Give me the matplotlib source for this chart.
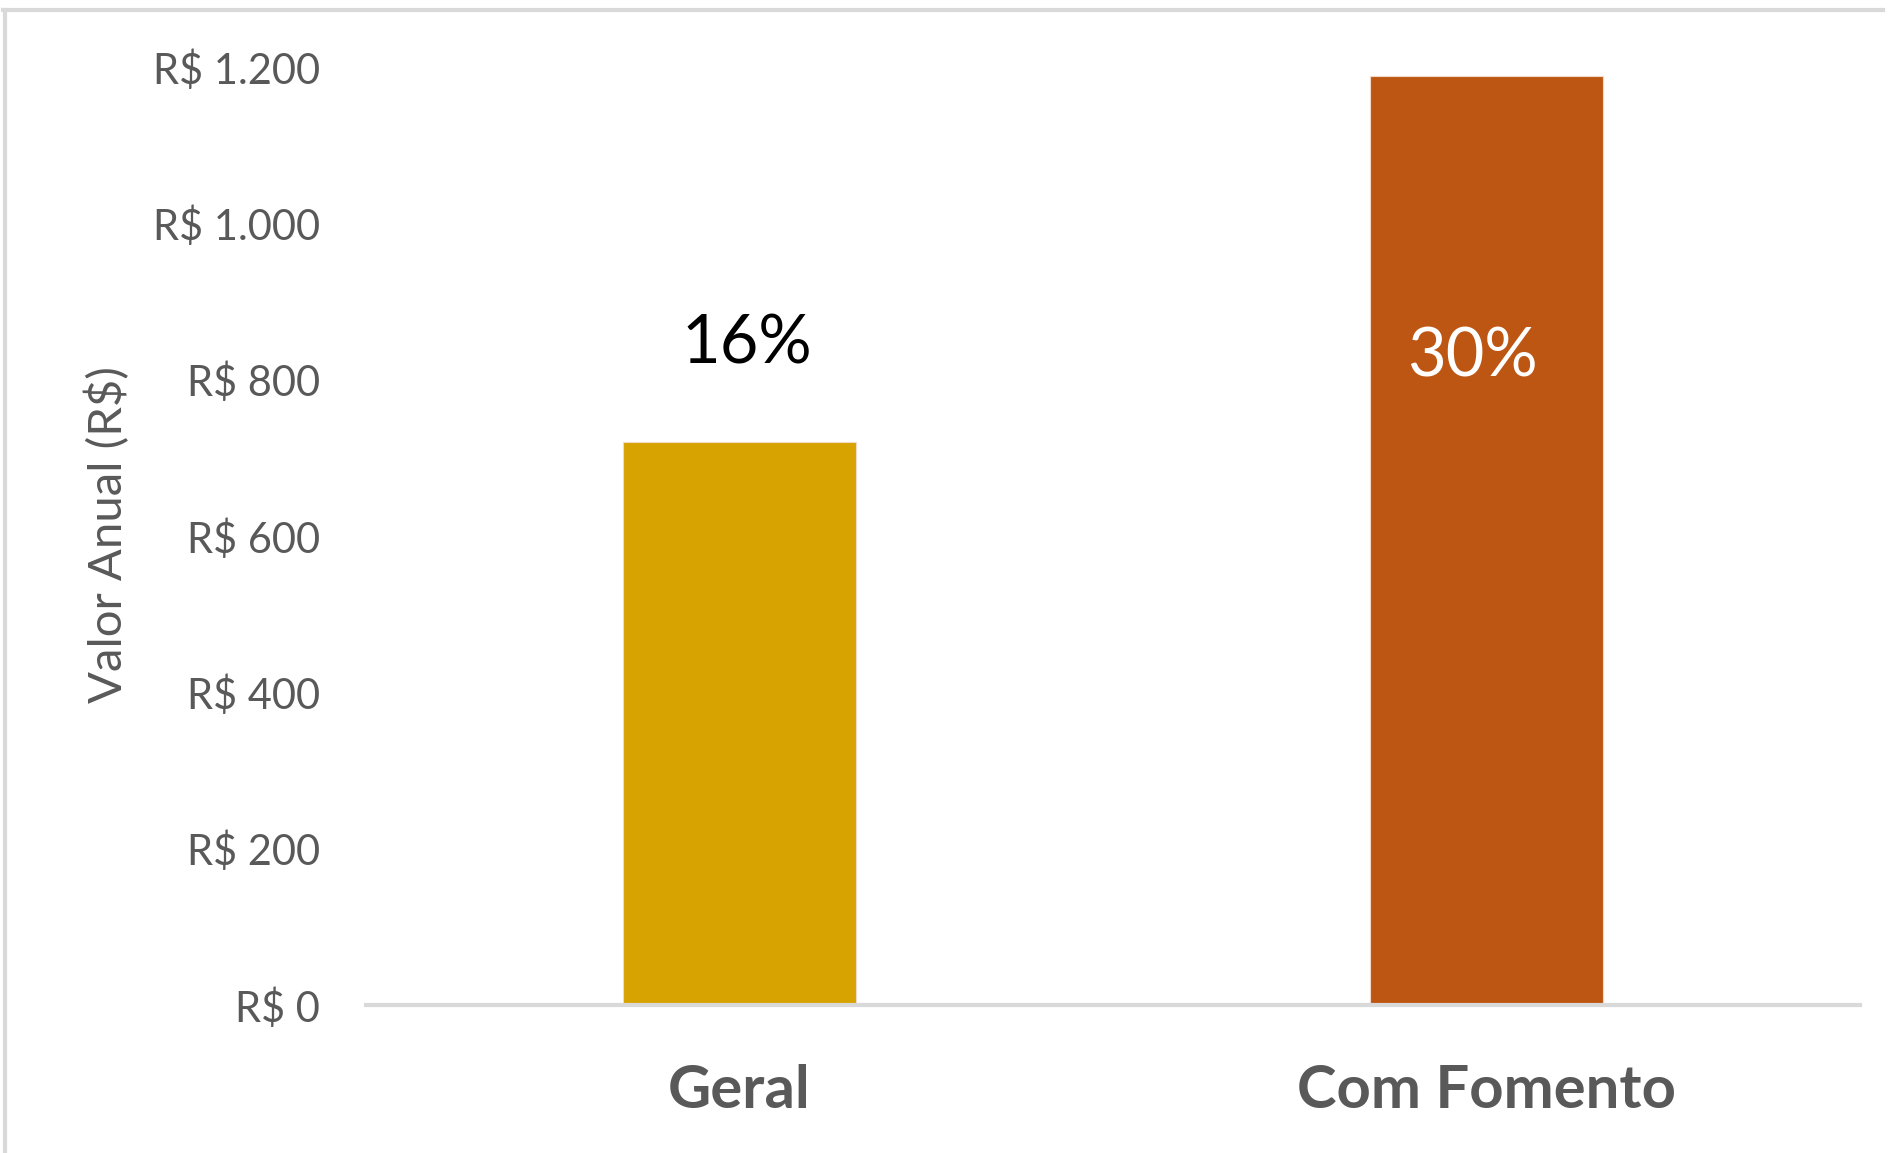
import matplotlib
matplotlib.use("Agg")
import matplotlib.pyplot as plt
from matplotlib.lines import Line2D

# --- Daten ---
categorias = ["Geral", "Com Fomento"]
valores = [720, 1188]
rotulos = ["16%", "30%"]
cores = ["#D6A300", "#BD5612"]
yticks = [0, 200, 400, 600, 800, 1000, 1200]
ylabel = "Valor Anual (R$)"
# --- Ende Daten ---

plt.rcParams['font.family'] = ['Lato', 'DejaVu Sans']
cinza = "#595959"

fig = plt.figure(figsize=(18.93, 11.53), dpi=100)
ax = fig.add_axes([366 / 1893, 148 / 1153, 1494 / 1893, 938 / 1153])

x = range(len(categorias))
ax.bar(x, valores, width=0.312, color=cores, edgecolor="#F2D9C8", linewidth=0.8, zorder=2)

ax.set_xlim(-0.5, 1.5)
ax.set_ylim(0, 1200)
ax.set_yticks(yticks)
ax.set_yticklabels([("R$ {:,}".format(v)).replace(",", ".") for v in yticks],
                   fontsize=30, color=cinza)
ax.tick_params(axis="y", length=0, pad=33)
ax.set_xticks([])

for s in ["top", "right", "left"]:
    ax.spines[s].set_visible(False)
ax.spines["bottom"].set_color("#D9D9D9")
ax.spines["bottom"].set_linewidth(3)
ax.spines["bottom"].set_zorder(3)

# Kategorien unter der Achse
for i, c in enumerate(categorias):
    ax.text(i, -0.1098, c, transform=ax.get_xaxis_transform(), ha="center",
            va="baseline", fontsize=43, fontweight="bold", color=cinza)

# Prozent-Beschriftungen
ax.annotate(rotulos[0], (0, valores[0]), xytext=(5, 57), textcoords="offset points",
            ha="center", va="baseline", fontsize=48, color="black")
ax.annotate(rotulos[1], (1, valores[1]), xytext=(-10, -216), textcoords="offset points",
            ha="center", va="baseline", fontsize=48, color="white")

fig.text(108 / 1893, 1 - 535 / 1153, ylabel, rotation=90, ha="center", va="center",
         fontsize=34, color=cinza)

# Rahmen
fig.add_artist(Line2D([3 / 1893, 1883 / 1893], [1 - 10 / 1153, 1 - 10 / 1153],
                      color="#D9D9D9", linewidth=3, transform=fig.transFigure))
fig.add_artist(Line2D([5 / 1893, 5 / 1893], [0, 1 - 10 / 1153],
                      color="#D9D9D9", linewidth=3, transform=fig.transFigure))

fig.savefig("out.png", dpi=100)
